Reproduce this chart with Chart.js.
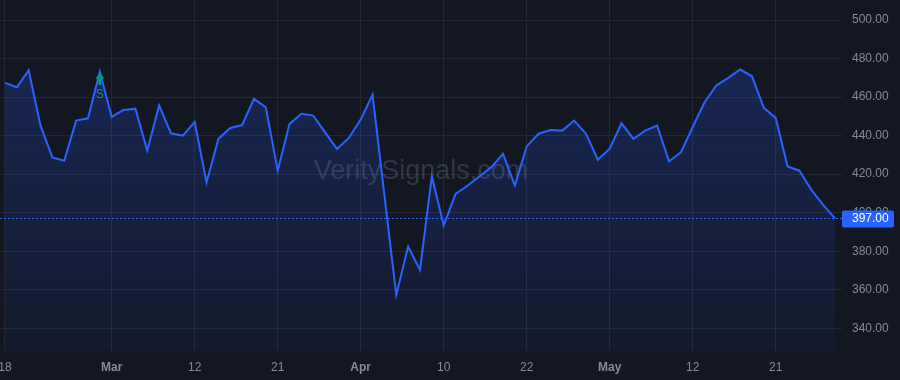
<!DOCTYPE html>
<html lang="en">

<head>
    <meta charset="UTF-8">
    <title>VeritySignals</title>
    <script src="https://cdn.jsdelivr.net/npm/chart.js"></script>
    <style>
        html, body { margin: 0; padding: 0; background: #131722; }
        #grafico { display: block; }
    </style>
</head>

<body>
    <canvas id="grafico" width="900" height="380"></canvas>

<script>
    // valores de fechamento, um por sessão
    const precos = [
        467.4, 465.1, 473.9, 445.2, 428.7, 427.0, 447.8, 449.0, 473.1, 449.7,
        453.3, 454.0, 432.3, 455.7, 441.2, 440.0, 447.1, 415.7, 438.3, 444.0,
        445.5, 459.1, 454.7, 421.8, 446.1, 451.3, 450.4, 441.7, 433.1, 438.8,
        448.3, 461.3, 409.0, 357.3, 382.4, 370.3, 418.8, 393.4, 409.8, 414.0,
        418.8, 423.5, 430.5, 414.1, 434.4, 441.0, 442.9, 442.6, 447.8, 441.0,
        427.5, 433.2, 446.4, 438.3, 442.6, 445.2, 426.6, 431.3, 444.5, 457.3,
        466.0, 470.0, 474.3, 470.8, 454.4, 449.2, 424.0, 421.8, 411.9, 404.1,
        397.0
    ];
    const sessoes = precos.map((_, i) => i);

    // rótulos do eixo x e a sessão onde cada um cai
    const rotulosX = ['18', 'Mar', '12', '21', 'Apr', '10', '22', 'May', '12', '21'];
    const posRotulosX = [0, 9, 16, 23, 30, 37, 44, 51, 58, 65];
    const ticksY = [340, 360, 380, 400, 420, 440, 460, 480, 500];

    // sinal marcado no gráfico
    const sinalIndice = 8;
    const sinalTexto = 'S';

    const fonte = '"Liberation Sans", Arial, sans-serif';
    const corGrade = '#232733';
    const corTexto = '#878b94';
    const azul = '#2962ff';

    // tira o espaço extra que o Chart.js reserva para os rótulos
    function semPadding(scale) {
        scale.paddingTop = 0;
        scale.paddingBottom = 0;
        scale.paddingLeft = 0;
        scale.paddingRight = 0;
    }

    const marcaDagua = {
        id: 'marcaDagua',
        beforeDatasetsDraw(chart) {
            const { ctx, chartArea } = chart;
            ctx.save();
            ctx.font = '27px ' + fonte;
            ctx.fillStyle = 'rgba(140, 148, 170, 0.26)';
            ctx.textAlign = 'center';
            ctx.textBaseline = 'middle';
            ctx.fillText('VeritySignals.com', chartArea.left + 421, 172);
            ctx.restore();
        }
    };

    const linhaPreco = {
        id: 'linhaPreco',
        afterDatasetsDraw(chart) {
            const { ctx, chartArea, scales } = chart;
            const ultimo = precos[precos.length - 1];
            const y = Math.round(scales.y.getPixelForValue(ultimo)) + 0.5;
            ctx.save();
            ctx.strokeStyle = azul;
            ctx.lineWidth = 1;
            ctx.setLineDash([2, 2]);
            ctx.beginPath();
            ctx.moveTo(chartArea.left, y);
            ctx.lineTo(chartArea.right, y);
            ctx.stroke();
            ctx.restore();

            // sinal (seta + letra)
            const sx = scales.x.getPixelForValue(sinalIndice);
            const sy = scales.y.getPixelForValue(precos[sinalIndice]);
            ctx.save();
            ctx.fillStyle = '#089981';
            ctx.beginPath();
            ctx.moveTo(sx, sy + 1);
            ctx.lineTo(sx + 4.5, sy + 7);
            ctx.lineTo(sx - 4.5, sy + 7);
            ctx.closePath();
            ctx.fill();
            ctx.fillRect(sx - 1.5, sy + 7, 3, 6);
            ctx.font = '12px ' + fonte;
            ctx.textAlign = 'center';
            ctx.textBaseline = 'middle';
            ctx.fillText(sinalTexto, sx, sy + 23);
            ctx.restore();
        },
        afterDraw(chart) {
            const { ctx, chartArea, scales } = chart;
            const ultimo = precos[precos.length - 1];
            const y = scales.y.getPixelForValue(ultimo);
            ctx.save();
            ctx.fillStyle = azul;
            ctx.beginPath();
            ctx.roundRect(chartArea.right, y - 8, 52, 17, 2);
            ctx.fill();
            ctx.fillStyle = '#ffffff';
            ctx.font = '12px ' + fonte;
            ctx.textAlign = 'left';
            ctx.textBaseline = 'middle';
            ctx.fillText(ultimo.toFixed(2), chartArea.right + 10, y + 0.5);
            ctx.restore();
        }
    };

    const ctx = document.getElementById('grafico').getContext('2d');

    const grafico = new Chart(ctx, {
        type: 'line',
        data: {
            datasets: [{
                data: sessoes.map((s, i) => ({ x: s, y: precos[i] })),
                borderColor: azul,
                borderWidth: 2,
                pointRadius: 0,
                tension: 0,
                fill: 'start',
                backgroundColor: function (context) {
                    const area = context.chart.chartArea;
                    if (!area) return 'rgba(41, 98, 255, 0.15)';
                    const g = context.chart.ctx.createLinearGradient(0, area.top, 0, area.bottom);
                    g.addColorStop(0, 'rgba(41, 98, 255, 0.26)');
                    g.addColorStop(1, 'rgba(41, 98, 255, 0.05)');
                    return g;
                }
            }]
        },
        options: {
            responsive: false,
            animation: false,
            layout: { padding: 0 },
            plugins: {
                legend: { display: false },
                tooltip: { enabled: false }
            },
            scales: {
                x: {
                    type: 'linear',
                    min: -0.42,
                    max: 70.59,
                    afterBuildTicks: (scale) => {
                        scale.ticks = posRotulosX.map(v => ({ value: v }));
                    },
                    afterFit: (scale) => { scale.height = 29; semPadding(scale); },
                    grid: { color: corGrade, drawTicks: false },
                    border: { display: false },
                    ticks: {
                        padding: 9,
                        color: corTexto,
                        maxRotation: 0,
                        autoSkip: false,
                        callback: (value) => rotulosX[posRotulosX.indexOf(value)],
                        font: (c) => {
                            const t = c.tick ? rotulosX[posRotulosX.indexOf(c.tick.value)] : '';
                            return { family: fonte, size: 12, weight: /[A-Za-z]/.test(t || '') ? 'bold' : 'normal' };
                        }
                    }
                },
                y: {
                    position: 'right',
                    min: 328.2,
                    max: 510.4,
                    afterBuildTicks: (scale) => {
                        scale.ticks = ticksY.map(v => ({ value: v }));
                    },
                    afterFit: (scale) => { scale.width = 58; semPadding(scale); },
                    grid: { color: corGrade, drawTicks: false },
                    border: { display: false },
                    ticks: {
                        padding: 10,
                        color: corTexto,
                        font: { family: fonte, size: 12 },
                        callback: (value) => Number(value).toFixed(2)
                    }
                }
            }
        },
        plugins: [marcaDagua, linhaPreco]
    });
</script>
</body>

</html>
